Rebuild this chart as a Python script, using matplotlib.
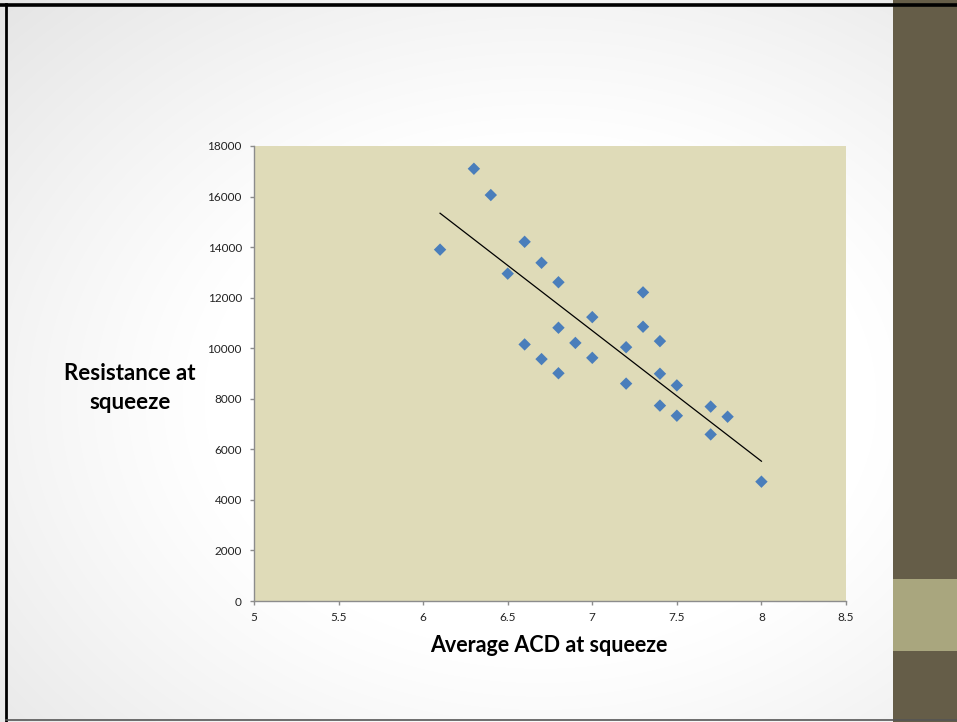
import numpy as np
import matplotlib
matplotlib.use("Agg")
import matplotlib.pyplot as plt
from matplotlib.patches import Rectangle
from matplotlib.lines import Line2D

# ---- data ----
acd = [6.1, 6.3, 6.4, 6.5, 6.6, 6.6, 6.7, 6.7, 6.8, 6.8, 6.8, 6.9, 7.0, 7.0,
       7.2, 7.2, 7.3, 7.3, 7.4, 7.4, 7.4, 7.5, 7.5, 7.7, 7.7, 7.8, 8.0]
resistance = [13900, 17100, 16060, 12950, 14210, 10150, 13380, 9570, 12610, 10810, 9010,
              10210, 11230, 9620, 10040, 8600, 12210, 10850, 10280, 8990, 7730,
              8530, 7330, 7690, 6590, 7290, 4720]
# linear trendline as drawn (endpoints)
trend_x = [6.1, 8.0]
trend_y = [15340, 5530]
x_ticks = [5, 5.5, 6, 6.5, 7, 7.5, 8, 8.5]
x_tick_labels = ["5", "5.5", "6", "6.5", "7", "7.5", "8", "8.5"]
y_ticks = [0, 2000, 4000, 6000, 8000, 10000, 12000, 14000, 16000, 18000]
y_tick_labels = [str(v) for v in y_ticks]
x_title = "Average ACD at squeeze"
y_title = "Resistance at\nsqueeze"

FONT = ["Lato", "DejaVu Sans"]

fig = plt.figure(figsize=(9.57, 7.22), dpi=100)
W, H = 957, 722

# ---- slide background with soft gradient ----
bg = fig.add_axes([0, 0, 1, 1], zorder=-10)
bg.set_axis_off()
yy, xx = np.mgrid[0:H, 0:W]
cx, cy = 540, 400
d = np.sqrt(((xx - cx) / 560.0) ** 2 + ((yy - cy) / 420.0) ** 2)
val = 1.0 - 0.14 * np.clip(d - 0.6, 0, None) ** 1.1
val = np.clip(val, 0.87, 1.0)
img = np.dstack([val, val, val])
bg.imshow(img, extent=[0, W, H, 0], aspect="auto", interpolation="bilinear")
bg.set_xlim(0, W)
bg.set_ylim(H, 0)
# right decorative band
bg.add_patch(Rectangle((893, 0), W - 893, H, color="#655d48", lw=0))
bg.add_patch(Rectangle((893, 579), W - 893, 72, color="#a9a67e", lw=0))
# slide frame
bg.add_line(Line2D([0, W], [4.5, 4.5], color="black", lw=2.6))
bg.add_line(Line2D([6, 6], [4, H], color="black", lw=2.0))
bg.add_line(Line2D([6, W], [719.5, 719.5], color="#555555", lw=1.2))

# ---- chart ----
ax = fig.add_axes([254 / W, 1 - 601 / H, (846 - 254) / W, (601 - 146) / H])
ax.set_facecolor("#dfdbb8")
ax.set_xlim(5, 8.5)
ax.set_ylim(0, 18000)

ax.scatter(acd, resistance, marker="D", s=40, color="#4a7ebb", edgecolors="none", zorder=3)
ax.plot(trend_x, trend_y, color="black", lw=0.9, zorder=2)

for s in ["top", "right"]:
    ax.spines[s].set_visible(False)
for s in ["left", "bottom"]:
    ax.spines[s].set_color("#8c8c8c")
    ax.spines[s].set_linewidth(1.0)

ax.set_xticks(x_ticks)
ax.set_xticklabels(x_tick_labels, fontfamily=FONT, fontsize=8.5)
ax.set_yticks(y_ticks)
ax.set_yticklabels(y_tick_labels, fontfamily=FONT, fontsize=8.5)
ax.tick_params(direction="out", length=3.2, width=1, color="#8c8c8c", labelcolor="#222222")
ax.tick_params(axis="y", pad=5.5)
ax.tick_params(axis="x", pad=5)

fig.text(549 / W, 1 - 646 / H, x_title, ha="center", va="center",
         fontfamily=FONT, fontweight="bold", fontsize=15.5)
fig.text(130 / W, 1 - 388 / H, y_title, ha="center", va="center",
         fontfamily=FONT, fontweight="bold", fontsize=16, linespacing=1.5)

fig.savefig("out.png", dpi=100)
